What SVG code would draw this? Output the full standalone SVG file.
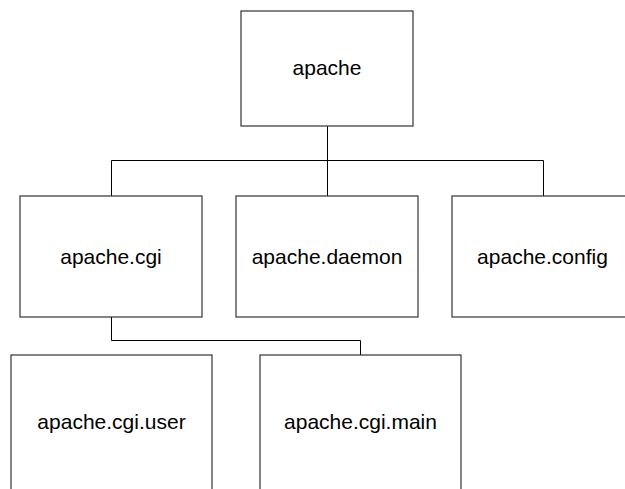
<svg xmlns="http://www.w3.org/2000/svg" width="625" height="489" viewBox="0 0 625 489">
  <style>
    .box { fill: #ffffff; stroke: #333333; stroke-width: 1.2; }
    .lbl { font-family: "Liberation Sans", Arial, sans-serif; font-size: 21px; fill: #000000; text-anchor: middle; }
    .wire { fill: none; stroke: #000000; stroke-width: 1; }
  </style>
  <rect width="625" height="489" fill="#ffffff"/>

  <!-- tree connectors -->
  <g id="connectors">
    <path class="wire" d="M327.5 126 V160.5 M111.5 160.5 H543.5 M111.5 160.5 V196 M327.5 160.5 V196 M543.5 160.5 V196"/>
    <path class="wire" d="M111.5 317 V340.5 H360.5 V355"/>
  </g>

  <g id="apache">
    <rect class="box" x="241" y="11" width="172" height="115"/>
    <text class="lbl" x="327" y="75">apache</text>
  </g>
  <g id="apache-cgi">
    <rect class="box" x="20" y="196" width="182" height="121"/>
    <text class="lbl" x="111" y="264">apache.cgi</text>
  </g>
  <g id="apache-daemon">
    <rect class="box" x="236" y="196" width="182" height="121"/>
    <text class="lbl" x="327" y="264">apache.daemon</text>
  </g>
  <g id="apache-config">
    <rect class="box" x="452" y="196" width="182" height="121"/>
    <text class="lbl" x="542.5" y="264">apache.config</text>
  </g>
  <g id="apache-cgi-user">
    <rect class="box" x="11" y="355" width="201" height="150"/>
    <text class="lbl" x="111.5" y="429">apache.cgi.user</text>
  </g>
  <g id="apache-cgi-main">
    <rect class="box" x="260" y="355" width="201" height="150"/>
    <text class="lbl" x="360.5" y="429">apache.cgi.main</text>
  </g>
</svg>
